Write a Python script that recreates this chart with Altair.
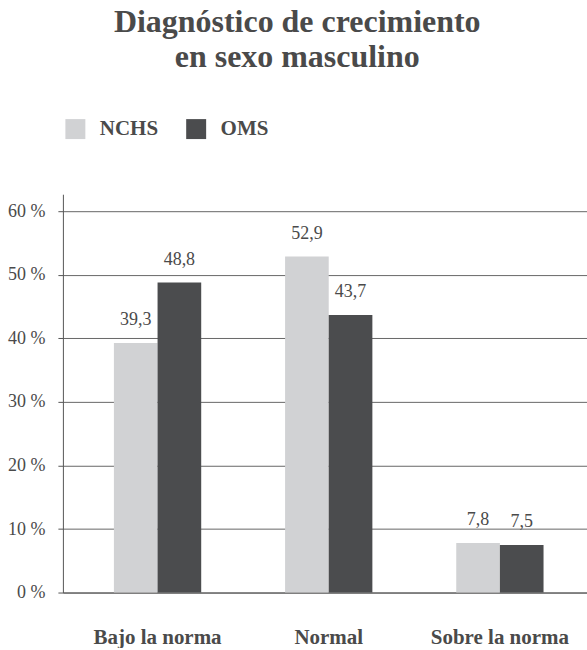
import altair as alt
import pandas as pd

categories = ["Bajo la norma", "Normal", "Sobre la norma"]
series = ["NCHS", "OMS"]
nchs = [39.3, 52.9, 7.8]
oms = [48.8, 43.7, 7.5]
y_ticks = [0, 10, 20, 30, 40, 50, 60]
colors = ["#d1d2d4", "#4b4c4e"]

rows = []
for i, c in enumerate(categories):
    for s, vals in zip(series, [nchs, oms]):
        v = vals[i]
        rows.append({"cat": c, "serie": s, "val": v, "lab": f"{v:.1f}".replace(".", ",")})
df = pd.DataFrame(rows)

FONT = "Liberation Serif"
TXT = "#4a4a4a"

x = alt.X("cat:N", sort=categories, title=None,
          scale=alt.Scale(paddingInner=0.49, paddingOuter=0.276, align=0.54),
          axis=alt.Axis(labelAngle=0, labelFont=FONT, labelFontSize=21, labelFontWeight="bold",
                        labelColor=TXT, ticks=False, labelPadding=34, domainColor="#555555",
                        domainWidth=1))
xo = alt.XOffset("serie:N", sort=series)

base = alt.Chart(df)

bars = base.mark_bar().encode(
    x=x, xOffset=xo,
    y=alt.Y("val:Q", title=None,
            scale=alt.Scale(domain=[0, 62.7], nice=False, zero=True),
            axis=alt.Axis(values=y_ticks, labelExpr="datum.value + ' %'", labelFont=FONT,
                          labelFontSize=18, labelColor=TXT, tickSize=5, tickColor="#555555",
                          labelPadding=13, domainColor="#555555", grid=True,
                          gridColor="#666666", gridWidth=1)),
    color=alt.Color("serie:N", sort=series, scale=alt.Scale(domain=series, range=colors),
                    legend=alt.Legend(title=None, orient="none", legendX=2, legendY=-76,
                                      direction="horizontal", symbolType="square",
                                      symbolSize=400, symbolStrokeWidth=0, labelFont=FONT,
                                      labelFontSize=21, labelFontWeight="bold", labelColor=TXT,
                                      labelOffset=14, columnPadding=27, padding=0)),
)

labels = base.mark_text(baseline="alphabetic", dy=-18, font=FONT, fontSize=18, color=TXT).encode(
    x=x, xOffset=xo, y=alt.Y("val:Q"), text="lab:N")

chart = alt.layer(bars, labels).properties(
    width=525, height=399,
    title=alt.TitleParams(["Diagnóstico de crecimiento", "en sexo masculino"], font=FONT,
                          fontSize=32, fontWeight="bold", color=TXT, anchor="middle",
                          frame="bounds", lineHeight=35, offset=44),
    padding={"left": 7, "top": 6, "right": 0, "bottom": 0},
).configure_view(stroke=None)

chart.save("out.html", embed_options={"renderer": "svg", "actions": False})
